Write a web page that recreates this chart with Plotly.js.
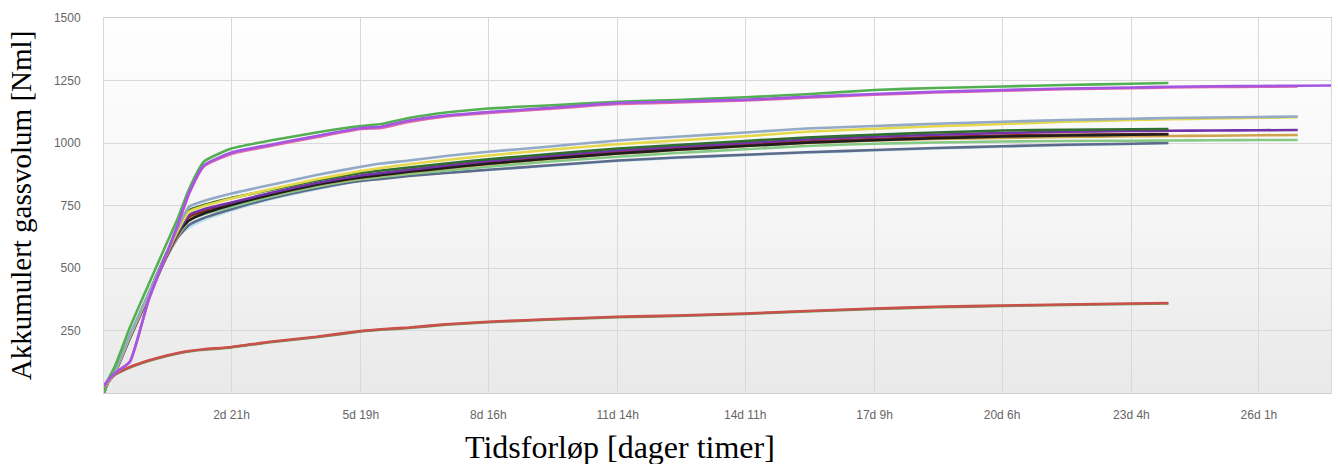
<!DOCTYPE html>
<html><head><meta charset="utf-8">
<script src="https://cdn.plot.ly/plotly-3.0.1.min.js"></script>
<style>
html,body{margin:0;padding:0;background:#fff;}
#wrap{position:relative;width:1338px;height:464px;overflow:hidden;}
#bg{position:absolute;left:104px;top:18px;width:1227px;height:375px;background:linear-gradient(to bottom,#fefefe 0%,#f6f6f6 50%,#e9e9e9 100%);}
#chart{position:absolute;left:0;top:0;width:1338px;height:464px;}
</style></head>
<body><div id="wrap"><div id="bg"></div><div id="chart"></div></div>
<script>
// time in hours since start
const hours = [0,2,6,14,24,34,40,46,54,69,90,115,139,150,165,185,208,240,278,310,347,380,417,450,486,520,556,576,600,625,646,664];

const xTickVals = [69,139,208,278,347,417,486,556,625];
const xTickText = ['2d 21h','5d 19h','8d 16h','11d 14h','14d 11h','17d 9h','20d 6h','23d 4h','26d 1h'];
const yTickVals = [250,500,750,1000,1250,1500];

// bottom group
const redLow   = [20,45,75,104,130,150,160,168,175,184,205,225,248,255,262,275,285,295,305,310,318,328,338,345,350,354,358,360];
const greenLow = [18,43,73,102,128,148,158,166,173,182,203,223,246,253,260,273,283,293,303,308,316,326,336,343,348,352,356,358];

// middle group
const greyBlue  = [0,42,88,230,395,560,660,745,768,798,832,872,905,918,930,948,965,985,1010,1025,1042,1058,1068,1077,1085,1092,1097,1100,1102,1104,1106];
const yellowMid = [0,40,86,226,392,556,650,725,748,778,815,855,888,900,915,932,950,972,995,1010,1027,1045,1057,1067,1076,1085,1092,1095,1098,1101,1103];
const darkGreen = [0,40,85,225,390,555,645,730,752,780,812,850,880,890,902,918,935,955,978,992,1008,1022,1033,1042,1050,1053,1055,1056];
const purpleMid = [0,40,84,222,388,552,640,712,735,762,800,840,870,880,893,910,928,948,970,985,1000,1014,1025,1033,1040,1045,1048,1049,1050,1051,1052];
const blackMid  = [0,40,86,228,394,562,642,690,718,752,792,833,862,872,885,900,917,937,958,973,988,1001,1011,1019,1026,1030,1033,1035];
const brownMid  = [0,40,84,222,386,550,635,705,728,758,795,835,865,875,888,904,922,942,963,978,993,1006,1016,1024,1030,1033,1035,1036];
const tanMid    = [0,40,84,222,386,550,632,700,724,755,792,832,860,870,883,898,915,935,957,972,988,1000,1010,1016,1020,1024,1027,1028,1029,1031,1032];
const lightGreen= [0,40,83,220,384,548,628,690,715,745,785,825,855,864,876,890,905,925,945,960,975,988,997,1002,1006,1008,1009,1010,1011,1012,1012];
const slateMid  = [0,40,82,218,382,545,622,672,700,735,778,818,848,856,868,880,893,910,930,942,953,963,972,980,987,993,997,1000];
const cyanMid   = [0,42,84,220,384,548,625,662,692,730,775,815,850,858,870,882,892,908,928,940,951,961,970,978,985,991,996,999];

// top group
const greenTop  = [0,50,108,262,432,600,700,815,925,978,1010,1042,1068,1076,1100,1122,1138,1150,1165,1172,1183,1195,1212,1220,1226,1232,1237,1240];
const pinkTop   = [25,45,80,125,368,558,672,796,906,956,988,1023,1056,1060,1084,1106,1120,1136,1156,1162,1170,1181,1193,1202,1209,1215,1219,1222,1224,1225,1226];
const purpleTop = [30,50,80,125,370,560,675,800,910,962,993,1028,1060,1065,1090,1110,1124,1140,1160,1166,1173,1185,1196,1205,1212,1218,1222,1225,1227,1228,1229,1230];

const series = [
  ['greenLow', greenLow, '#6f9a5a'],
  ['redLow', redLow, '#c9504b'],
  ['cyanMid', cyanMid, '#b9e2ea'],
  ['slateMid', slateMid, '#5e6a8c'],
  ['lightGreen', lightGreen, '#86c986'],
  ['tanMid', tanMid, '#cfa24e'],
  ['brownMid', brownMid, '#8c2c1e'],
  ['blackMid', blackMid, '#1e1e1e'],
  ['purpleMid', purpleMid, '#7431a8'],
  ['darkGreen', darkGreen, '#2f6e2f'],
  ['yellowMid', yellowMid, '#e5d84a'],
  ['greyBlue', greyBlue, '#93a9c6'],
  ['greenTop', greenTop, '#52b052'],
  ['pinkTop', pinkTop, '#e06aa8'],
  ['purpleTop', purpleTop, '#a455e2']
];

const traces = series.map(([name, vals, color]) => ({
  type: 'scatter', mode: 'lines', name: name,
  x: hours.slice(0, vals.length), y: vals,
  line: {color: color, width: 2.6, shape: 'spline', smoothing: 0.5},
  hoverinfo: 'skip', showlegend: false
}));

const tickFont = {family: '"Liberation Sans", Arial, sans-serif', size: 12, color: '#666'};
const titleFont = {family: '"Liberation Serif", "Times New Roman", serif', color: '#000'};

const layout = {
  width: 1338, height: 464,
  margin: {l: 104, r: 7, t: 18, b: 71},
  paper_bgcolor: 'rgba(0,0,0,0)',
  plot_bgcolor: 'rgba(0,0,0,0)',
  showlegend: false,
  font: tickFont,
  xaxis: {
    range: [0, 664],
    tickvals: xTickVals, ticktext: xTickText,
    showgrid: true, gridcolor: '#d9d9d9', gridwidth: 1,
    zeroline: false, showline: true, linecolor: '#cfcfcf', mirror: true,
    ticks: '', ticklabelstandoff: 11,
    tickfont: tickFont
  },
  yaxis: {
    range: [0, 1500],
    tickvals: yTickVals,
    showgrid: true, gridcolor: '#d9d9d9', gridwidth: 1,
    zeroline: false, showline: true, linecolor: '#d9d9d9', mirror: true,
    ticks: '', ticklabelstandoff: 20,
    tickfont: tickFont,
    title: {text: 'Akkumulert gassvolum [Nml]', standoff: 13,
      font: Object.assign({size: 29}, titleFont)}
  },
  annotations: [{
    text: 'Tidsforløp [dager timer]', xref: 'paper', yref: 'paper',
    x: (620 - 104) / 1227, y: 0, yshift: -54, xanchor: 'center', yanchor: 'middle',
    showarrow: false, font: Object.assign({size: 32}, titleFont)
  }]
};

Plotly.newPlot('chart', traces, layout, {staticPlot: true, displayModeBar: false});
</script></body></html>
